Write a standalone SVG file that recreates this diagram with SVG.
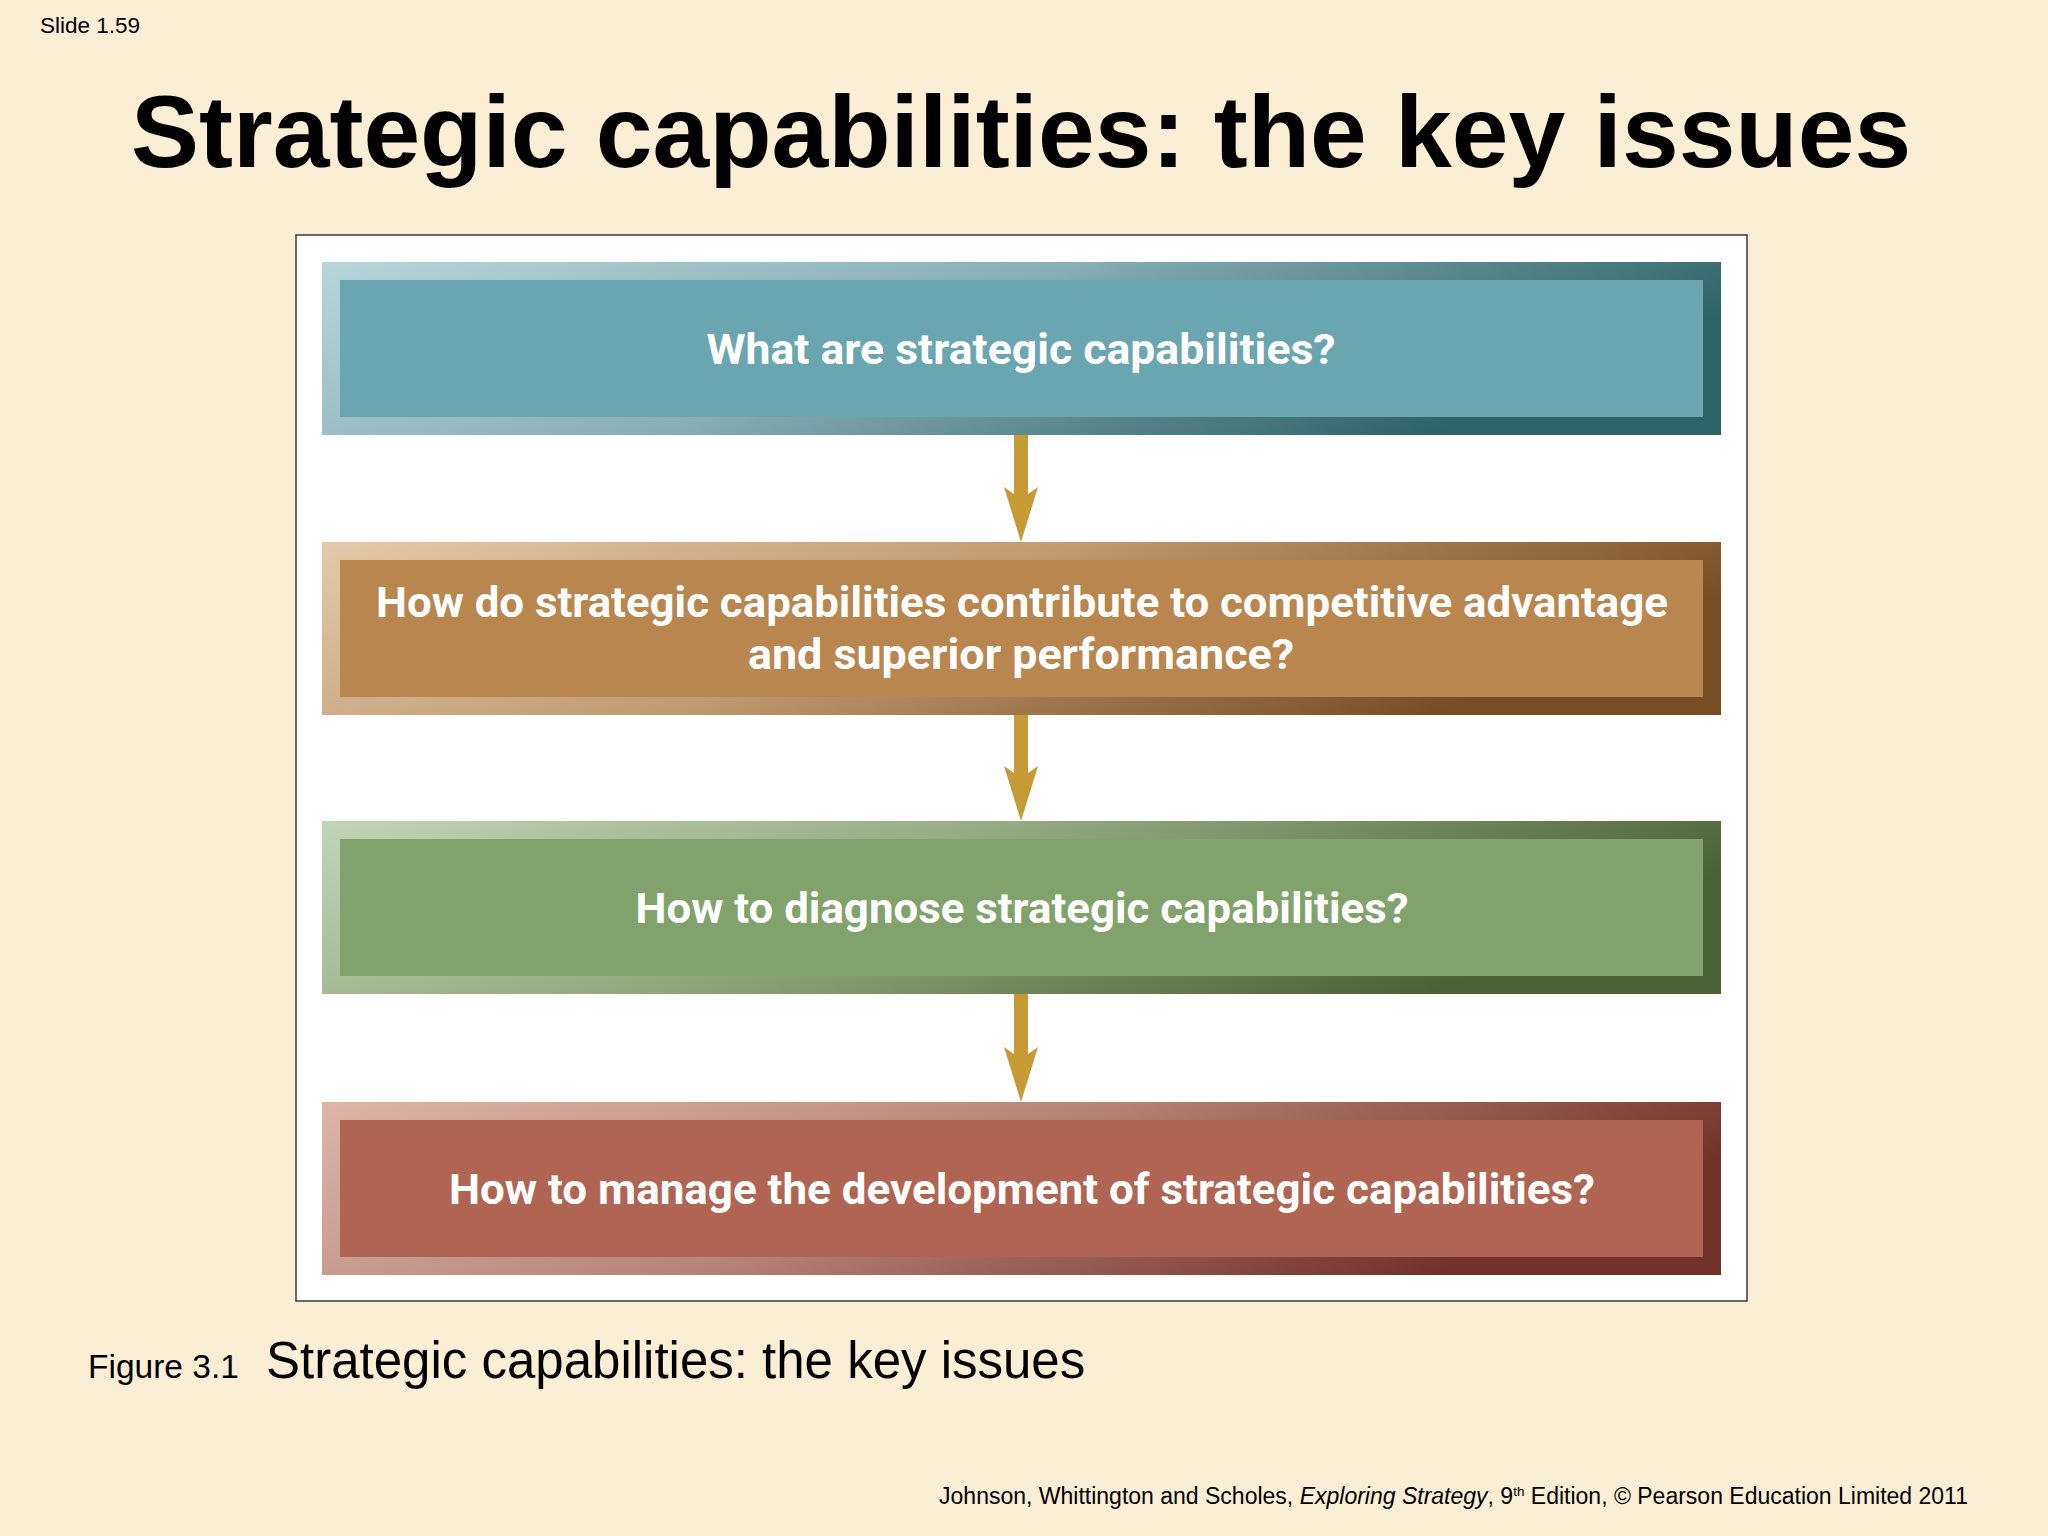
<svg xmlns="http://www.w3.org/2000/svg" width="2048" height="1536" viewBox="0 0 2048 1536">
  <style>
    .slide { font-family: "Liberation Sans", Arial, sans-serif; fill: #000; }
    .boxtxt { font-family: Roboto, "Open Sans", "DejaVu Sans", sans-serif; font-weight: 700; font-size: 42px; fill: #FFFFFF; text-anchor: middle; }
    .arrow { fill: #C49B35; }
  </style>
  <defs>
    <linearGradient id="gTeal" x1="0" y1="0" x2="1" y2="0.3">
      <stop offset="0" stop-color="#B7D5DA"/>
      <stop offset="0.5" stop-color="#86AEB3"/>
      <stop offset="1" stop-color="#2E6367"/>
    </linearGradient>
    <linearGradient id="gBrown" x1="0" y1="0" x2="1" y2="0.3">
      <stop offset="0" stop-color="#E3C9AA"/>
      <stop offset="0.5" stop-color="#C09A70"/>
      <stop offset="1" stop-color="#7A4E24"/>
    </linearGradient>
    <linearGradient id="gGreen" x1="0" y1="0" x2="1" y2="0.3">
      <stop offset="0" stop-color="#C2D4B6"/>
      <stop offset="0.5" stop-color="#8FA67C"/>
      <stop offset="1" stop-color="#4A6236"/>
    </linearGradient>
    <linearGradient id="gRed" x1="0" y1="0" x2="1" y2="0.3">
      <stop offset="0" stop-color="#DDB6A8"/>
      <stop offset="0.5" stop-color="#B88679"/>
      <stop offset="1" stop-color="#72322A"/>
    </linearGradient>
  </defs>

  <rect x="0" y="0" width="2048" height="1536" fill="#FAEFD4"/>

  <text class="slide" x="40" y="33" font-size="22.5">Slide 1.59</text>
  <text class="slide" x="131" y="167" font-size="102" font-weight="700">Strategic capabilities: the key issues</text>

  <rect x="296" y="235" width="1451" height="1066" fill="#FFFFFF" stroke="#3A3A3A" stroke-width="1.5"/>

  <g id="node1">
    <rect x="322" y="262" width="1399" height="173" fill="url(#gTeal)"/>
    <rect x="340" y="280" width="1363" height="137" fill="#6AA6AF"/>
    <text class="boxtxt" x="1021" y="364" textLength="629" lengthAdjust="spacingAndGlyphs">What are strategic capabilities?</text>
  </g>

  <g id="node2">
    <rect x="322" y="542" width="1399" height="173" fill="url(#gBrown)"/>
    <rect x="340" y="560" width="1363" height="137" fill="#B9864F"/>
    <text class="boxtxt" x="1022" y="617" textLength="1292" lengthAdjust="spacingAndGlyphs">How do strategic capabilities contribute to competitive advantage</text>
    <text class="boxtxt" x="1021" y="669" textLength="546" lengthAdjust="spacingAndGlyphs">and superior performance?</text>
  </g>

  <g id="node3">
    <rect x="322" y="821" width="1399" height="173" fill="url(#gGreen)"/>
    <rect x="340" y="839" width="1363" height="137" fill="#82A26C"/>
    <text class="boxtxt" x="1022" y="923" textLength="773" lengthAdjust="spacingAndGlyphs">How to diagnose strategic capabilities?</text>
  </g>

  <g id="node4">
    <rect x="322" y="1102" width="1399" height="173" fill="url(#gRed)"/>
    <rect x="340" y="1120" width="1363" height="137" fill="#B06553"/>
    <text class="boxtxt" x="1022" y="1204" textLength="1146" lengthAdjust="spacingAndGlyphs">How to manage the development of strategic capabilities?</text>
  </g>

  <g id="connectors">
    <polygon class="arrow" points="1014,435 1028,435 1028,494 1038,487 1021,542 1004,487 1014,494"/>
    <polygon class="arrow" points="1014,715 1028,715 1028,773 1038,766 1021,821 1004,766 1014,773"/>
    <polygon class="arrow" points="1014,994 1028,994 1028,1054 1038,1047 1021,1102 1004,1047 1014,1054"/>
  </g>

  <text class="slide" x="88" y="1378" font-size="33.5">Figure 3.1</text>
  <text class="slide" x="266" y="1378" font-size="51">Strategic capabilities: the key issues</text>

  <text class="slide" x="1968" y="1504" font-size="23" text-anchor="end">Johnson, Whittington and Scholes, <tspan font-style="italic">Exploring Strategy</tspan>, 9<tspan font-size="13.5" dy="-8">th</tspan><tspan dy="8"> Edition, © Pearson Education Limited 2011</tspan></text>
</svg>
